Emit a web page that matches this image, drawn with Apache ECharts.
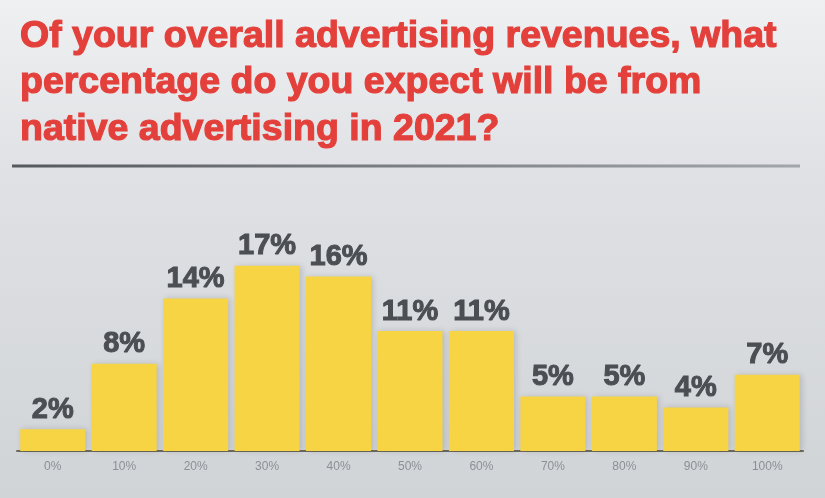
<!DOCTYPE html>
<html>
<head>
<meta charset="utf-8">
<script src="https://cdn.jsdelivr.net/npm/echarts@6/dist/echarts.min.js"></script>
<style>
  html, body { margin: 0; padding: 0; background: #fff; }
  #chart { width: 825px; height: 498px; }
</style>
</head>
<body>
<div id="chart"></div>
<script>
// Share of advertising revenue expected from native advertising (2021)
const titleText = 'Of your overall advertising revenues, what\npercentage do you expect will be from\nnative advertising in 2021?';
const categories = ['0%', '10%', '20%', '30%', '40%', '50%', '60%', '70%', '80%', '90%', '100%'];
const respondents = [2, 8, 14, 17, 16, 11, 11, 5, 5, 4, 7];

const chart = echarts.init(document.getElementById('chart'), null, { renderer: 'canvas' });

chart.setOption({
  backgroundColor: {
    type: 'linear', x: 0, y: 0, x2: 0, y2: 1,
    colorStops: [
      { offset: 0, color: '#eef0f2' },
      { offset: 0.35, color: '#dfe1e4' },
      { offset: 1, color: '#d1d4d7' }
    ]
  },
  title: {
    text: titleText,
    left: 15,
    top: 8,
    textStyle: {
      color: '#e4403b',
      fontFamily: 'Liberation Sans, Arial, sans-serif',
      fontWeight: 'bold',
      fontSize: 37.5,
      lineHeight: 46.5,
      textBorderColor: '#e4403b',
      textBorderWidth: 1.2
    }
  },
  graphic: [
    {
      type: 'line',
      shape: { x1: 12, y1: 166, x2: 800, y2: 166 },
      style: {
        lineWidth: 3,
        stroke: {
          type: 'linear', x: 0, y: 0, x2: 1, y2: 0,
          colorStops: [
            { offset: 0, color: '#55585c' },
            { offset: 1, color: '#a3a6aa' }
          ]
        }
      }
    }
  ],
  grid: { left: 17, right: 22, top: 233, bottom: 47 },
  xAxis: {
    type: 'category',
    data: categories,
    axisTick: { show: false },
    axisLine: { show: true, lineStyle: { color: '#6c6a5e', width: 2 } },
    axisLabel: {
      color: '#8c8f94',
      fontSize: 12,
      margin: 10,
      fontFamily: 'Liberation Sans, Arial, sans-serif'
    }
  },
  yAxis: {
    type: 'value',
    min: 0,
    max: 20,
    show: false,
    splitLine: { show: false }
  },
  series: [
    {
      type: 'bar',
      data: respondents,
      barCategoryGap: '9%',
      itemStyle: {
        color: '#f7d443',
        shadowColor: 'rgba(0,0,0,0.15)',
        shadowBlur: 6,
        shadowOffsetX: 2
      },
      label: {
        show: true,
        position: 'top',
        distance: 5,
        formatter: '{c}%',
        color: '#4b4e53',
        fontSize: 29,
        fontWeight: 'bold',
        fontFamily: 'Liberation Sans, Arial, sans-serif',
        textBorderColor: '#4b4e53',
        textBorderWidth: 1
      }
    }
  ]
});
</script>
</body>
</html>
